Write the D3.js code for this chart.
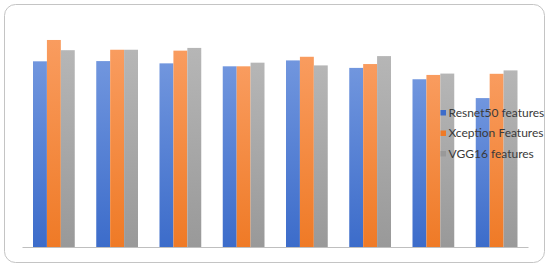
<!DOCTYPE html>
<html>
<head>
<meta charset="utf-8">
<script src="https://cdn.jsdelivr.net/npm/d3@7"></script>
<style>
  html, body { margin: 0; padding: 0; background: #fff; }
</style>
</head>
<body>
<svg id="chart" width="550" height="266"></svg>
<script>
// data (no y axis shown, so values are relative)
const groups = ["1", "2", "3", "4", "5", "6", "7", "8"];
const seriesNames = ["Resnet50 features", "Xception Features", "VGG16 features"];
const resnet50 = [81.8, 81.9, 80.9, 79.6, 82.2, 78.9, 73.9, 65.6];
const xception = [91.2, 86.9, 86.5, 79.6, 83.8, 80.6, 75.8, 76.3];
const vgg16 = [86.7, 86.9, 87.7, 81.2, 80.0, 84.1, 76.4, 77.8];
const seriesValues = [resnet50, xception, vgg16];

const colorsTop = ["#7196de", "#f99c5f", "#b6b6b6"];
const colorsBottom = ["#3c6cca", "#ef7a26", "#999999"];

const svg = d3.select("#chart");

// rounded chart frame
svg.append("rect")
    .attr("x", 4.5).attr("y", 4.5)
    .attr("width", 540).attr("height", 258)
    .attr("rx", 11).attr("ry", 11)
    .attr("fill", "#fff")
    .attr("stroke", "#c4c4c4")
    .attr("stroke-width", 1);

// gradients
const defs = svg.append("defs");
seriesNames.forEach((s, i) => {
    const g = defs.append("linearGradient")
        .attr("id", "grad" + i)
        .attr("x1", 0).attr("y1", 0).attr("x2", 0).attr("y2", 1);
    g.append("stop").attr("offset", "0%").attr("stop-color", colorsTop[i]);
    g.append("stop").attr("offset", "100%").attr("stop-color", colorsBottom[i]);
});

const x0 = d3.scaleBand()
    .domain(groups)
    .range([22, 528])
    .paddingInner(0)
    .paddingOuter(0);

const x1 = d3.scaleBand()
    .domain(seriesNames)
    .range([11, x0.bandwidth() - 10.5]);

const y = d3.scaleLinear()
    .domain([0, 100])
    .range([247, 20]);

// bars
const gGroups = svg.selectAll("g.group")
    .data(groups)
    .enter()
    .append("g")
    .attr("class", "group")
    .attr("transform", d => `translate(${x0(d)},0)`);

gGroups.selectAll("rect")
    .data((d, gi) => seriesNames.map((s, si) => ({s, si, v: seriesValues[si][gi]})))
    .enter()
    .append("rect")
    .attr("x", d => x1(d.s))
    .attr("width", x1.bandwidth())
    .attr("y", d => y(d.v))
    .attr("height", d => y(0) - y(d.v))
    .attr("fill", d => `url(#grad${d.si})`);

// baseline
svg.append("g")
    .attr("transform", `translate(0,${y(0)})`)
    .call(d3.axisBottom(x0).tickSize(0).tickFormat(""))
    .call(g => g.select(".domain").attr("stroke", "#bfbfbf").attr("stroke-width", 1));

// legend
const legend = svg.append("g")
    .attr("transform", "translate(440.5,110)");

const items = legend.selectAll("g")
    .data(seriesNames)
    .enter()
    .append("g")
    .attr("transform", (d, i) => `translate(0,${i * 20.5})`);

items.append("rect")
    .attr("width", 5.5).attr("height", 5.5)
    .attr("fill", (d, i) => colorsBottom[i]);

items.append("text")
    .attr("x", 8)
    .attr("y", 6.8)
    .style("font-family", "Lato, 'Open Sans', sans-serif")
    .style("font-size", "12px")
    .attr("fill", "#3a3a3a")
    .text(d => d);
</script>
</body>
</html>
